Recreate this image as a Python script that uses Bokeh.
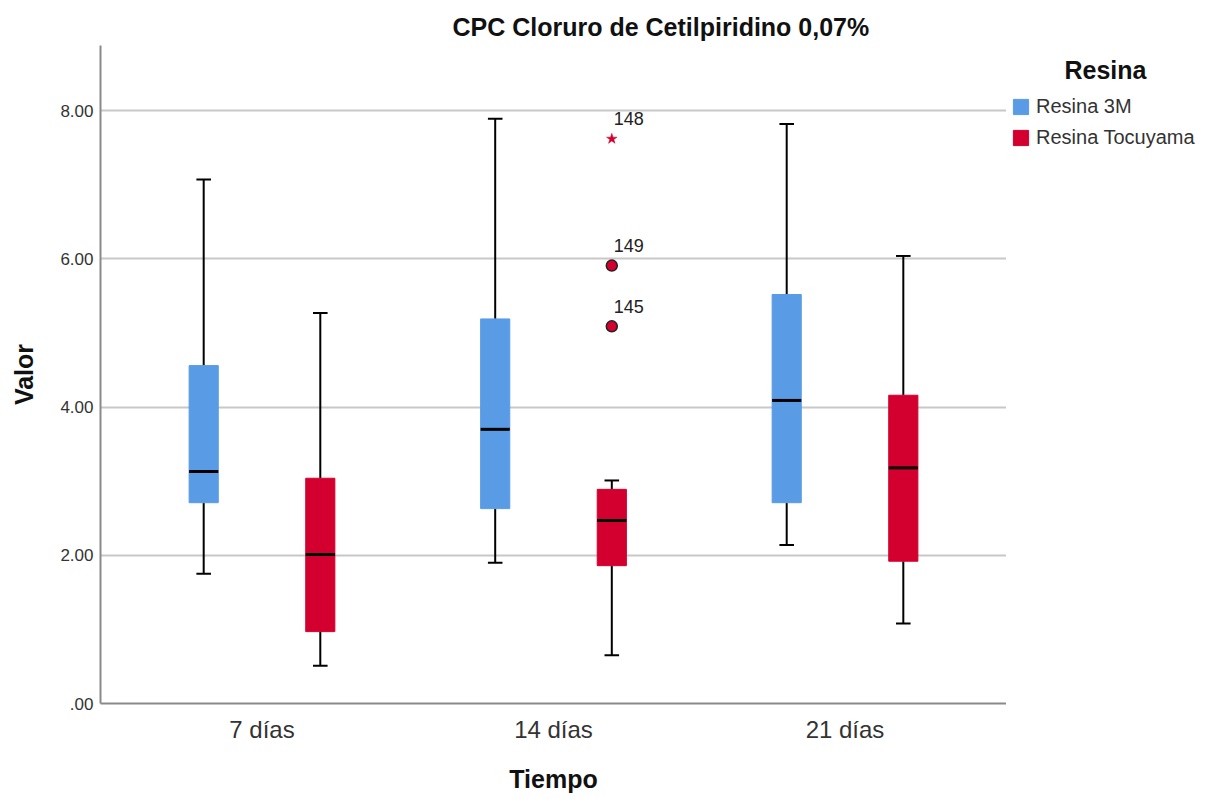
from bokeh.plotting import figure
from bokeh.layouts import row
from bokeh.models import (ColumnDataSource, FactorRange, FixedTicker, PrintfTickFormatter,
                          Legend, LegendItem, Label)
from bokeh.core.properties import value
from bokeh.transform import dodge
from bokeh.embed import file_html
from bokeh.resources import INLINE

# ---------------- data ----------------
tiempo = ["7 días", "14 días", "21 días"]
series = ["Resina 3M", "Resina Tocuyama"]

# Resina 3M
r3m_low = [1.75, 1.90, 2.14]
r3m_q1 = [2.71, 2.63, 2.71]
r3m_med = [3.13, 3.70, 4.09]
r3m_q3 = [4.56, 5.19, 5.52]
r3m_high = [7.07, 7.89, 7.82]

# Resina Tocuyama
toc_low = [0.51, 0.65, 1.08]
toc_q1 = [0.97, 1.86, 1.92]
toc_med = [2.01, 2.47, 3.18]
toc_q3 = [3.04, 2.89, 4.16]
toc_high = [5.27, 3.01, 6.04]

# outliers (Resina Tocuyama, 14 días)
out_tiempo = ["14 días", "14 días", "14 días"]
out_values = [7.62, 5.91, 5.09]
out_ids = ["148", "149", "145"]
out_extreme = [True, False, False]

y_ticks = [0, 2, 4, 6, 8]

BLUE = "#5A9BE6"
RED = "#D3002F"
FONT = "Liberation Sans"

p = figure(width=1006, height=799, x_range=FactorRange(*tiempo, range_padding=0.036),
           y_range=(0, 8.88), output_backend="svg", toolbar_location=None,
           min_border_left=100, min_border_right=0, min_border_top=45, min_border_bottom=96)
p.outline_line_color = None
p.background_fill_color = "white"
p.border_fill_color = "white"

p.title.text = "CPC Cloruro de Cetilpiridino 0,07%"
p.title.align = "left"
p.title.offset = 352
p.title.text_font = FONT
p.title.text_font_size = "25px"
p.title.text_font_style = "bold"
p.title.text_color = "#111111"

# axes
p.yaxis.ticker = FixedTicker(ticks=y_ticks)
p.yaxis.formatter = PrintfTickFormatter(format="%.2f")
p.yaxis.major_label_overrides = {0: ".00"}
p.yaxis.axis_label = "Valor"
p.xaxis.axis_label = "Tiempo"
for ax in (p.xaxis, p.yaxis):
    ax.axis_line_color = "#8a8a8a"
    ax.axis_line_width = 2
    ax.major_tick_out = 0
    ax.major_tick_in = 0
    ax.minor_tick_out = 0
    ax.minor_tick_in = 0
    ax.axis_label_text_font = FONT
    ax.axis_label_text_font_style = "bold"
    ax.axis_label_text_font_size = "25px"
    ax.axis_label_text_color = "#111111"
    ax.major_label_text_font = FONT
    ax.major_label_text_color = "#333333"
p.yaxis.major_label_text_font_size = "17px"
p.yaxis.major_label_standoff = 7
p.yaxis.axis_label_standoff = 19
p.xaxis.major_label_text_font_size = "24px"
p.xaxis.major_label_standoff = 12
p.xaxis.axis_label_standoff = 19
p.xgrid.grid_line_color = None
p.ygrid.ticker = FixedTicker(ticks=[2, 4, 6, 8])
p.ygrid.grid_line_color = "#c8c8c8"
p.ygrid.grid_line_width = 2

BOXW = 0.1
CAPW = 0.05


def draw(low, q1, med, q3, high, offset, color):
    src = ColumnDataSource(dict(t=tiempo, low=low, q1=q1, med=med, q3=q3, high=high))
    x = dodge("t", offset, range=p.x_range)
    xl = dodge("t", offset - CAPW / 2, range=p.x_range)
    xr = dodge("t", offset + CAPW / 2, range=p.x_range)
    p.segment(x0=x, x1=x, y0="low", y1="q1", source=src, line_color="black", line_width=2)
    p.segment(x0=x, x1=x, y0="q3", y1="high", source=src, line_color="black", line_width=2)
    p.segment(x0=xl, x1=xr, y0="low", y1="low", source=src, line_color="black", line_width=2)
    p.segment(x0=xl, x1=xr, y0="high", y1="high", source=src, line_color="black", line_width=2)
    p.vbar(x=x, width=BOXW, bottom="q1", top="q3", source=src, fill_color=color, line_color=color,
           line_width=1)
    p.segment(x0=dodge("t", offset - BOXW / 2, range=p.x_range), x1=dodge("t", offset + BOXW / 2, range=p.x_range),
              y0="med", y1="med", source=src, line_color="black", line_width=3)
    return src


src1 = draw(r3m_low, r3m_q1, r3m_med, r3m_q3, r3m_high, -0.2, BLUE)
src2 = draw(toc_low, toc_q1, toc_med, toc_q3, toc_high, 0.2, RED)

# outliers
ext_src = ColumnDataSource(dict(t=[t for t, e in zip(out_tiempo, out_extreme) if e],
                                v=[v for v, e in zip(out_values, out_extreme) if e]))
mild_src = ColumnDataSource(dict(t=[t for t, e in zip(out_tiempo, out_extreme) if not e],
                                 v=[v for v, e in zip(out_values, out_extreme) if not e]))
p.scatter(x=dodge("t", 0.2, range=p.x_range), y="v", source=ext_src, marker="star", size=11,
          fill_color=RED, line_color=RED, line_width=0.5)
p.scatter(x=dodge("t", 0.2, range=p.x_range), y="v", source=mild_src, marker="circle", size=11,
          fill_color=RED, line_color="#222222", line_width=1.5)
all_src = ColumnDataSource(dict(t=out_tiempo, v=out_values, lab=out_ids))
p.text(x=dodge("t", 0.2, range=p.x_range), y="v", text="lab", source=all_src, x_offset=2, y_offset=-20,
       text_font=value(FONT), text_font_size="18px", text_color="#222222", text_baseline="alphabetic",
       text_align="left")

# ---------------- legend panel (shares the ranges of the chart) ----------------
lp = figure(width=213, height=799, x_range=p.x_range, y_range=p.y_range, title=None,
            output_backend="svg", toolbar_location=None,
            min_border_left=0, min_border_right=0, min_border_top=45, min_border_bottom=96)
lp.axis.visible = False
lp.grid.visible = False
lp.outline_line_color = None
lp.border_fill_color = "white"
g1 = lp.vbar(x=dodge("t", -0.2, range=lp.x_range), width=BOXW, bottom="q1", top="q3", source=src1,
             fill_color=BLUE, line_color=BLUE, visible=False)
g2 = lp.vbar(x=dodge("t", 0.2, range=lp.x_range), width=BOXW, bottom="q1", top="q3", source=src2,
             fill_color=RED, line_color=RED, visible=False)
legend = Legend(items=[LegendItem(label=series[0], renderers=[g1]),
                       LegendItem(label=series[1], renderers=[g2])],
                location=(5, 554), orientation="vertical")
legend.border_line_color = None
legend.background_fill_alpha = 0
legend.inactive_fill_alpha = 0
legend.padding = 0
legend.margin = 0
legend.spacing = 8
legend.glyph_width = 19
legend.glyph_height = 19
legend.label_height = 19
legend.label_standoff = 6
legend.label_text_font = FONT
legend.label_text_font_size = "20px"
legend.label_text_color = "#333333"
lp.add_layout(legend, "center")
lp.add_layout(Label(x=99, y=634, x_units="screen", y_units="screen", text="Resina",
                    text_font=FONT, text_font_size="25px", text_font_style="bold",
                    text_align="center", text_baseline="middle", text_color="#111111"))

open("out.html", "w").write(file_html(row(p, lp), INLINE))
